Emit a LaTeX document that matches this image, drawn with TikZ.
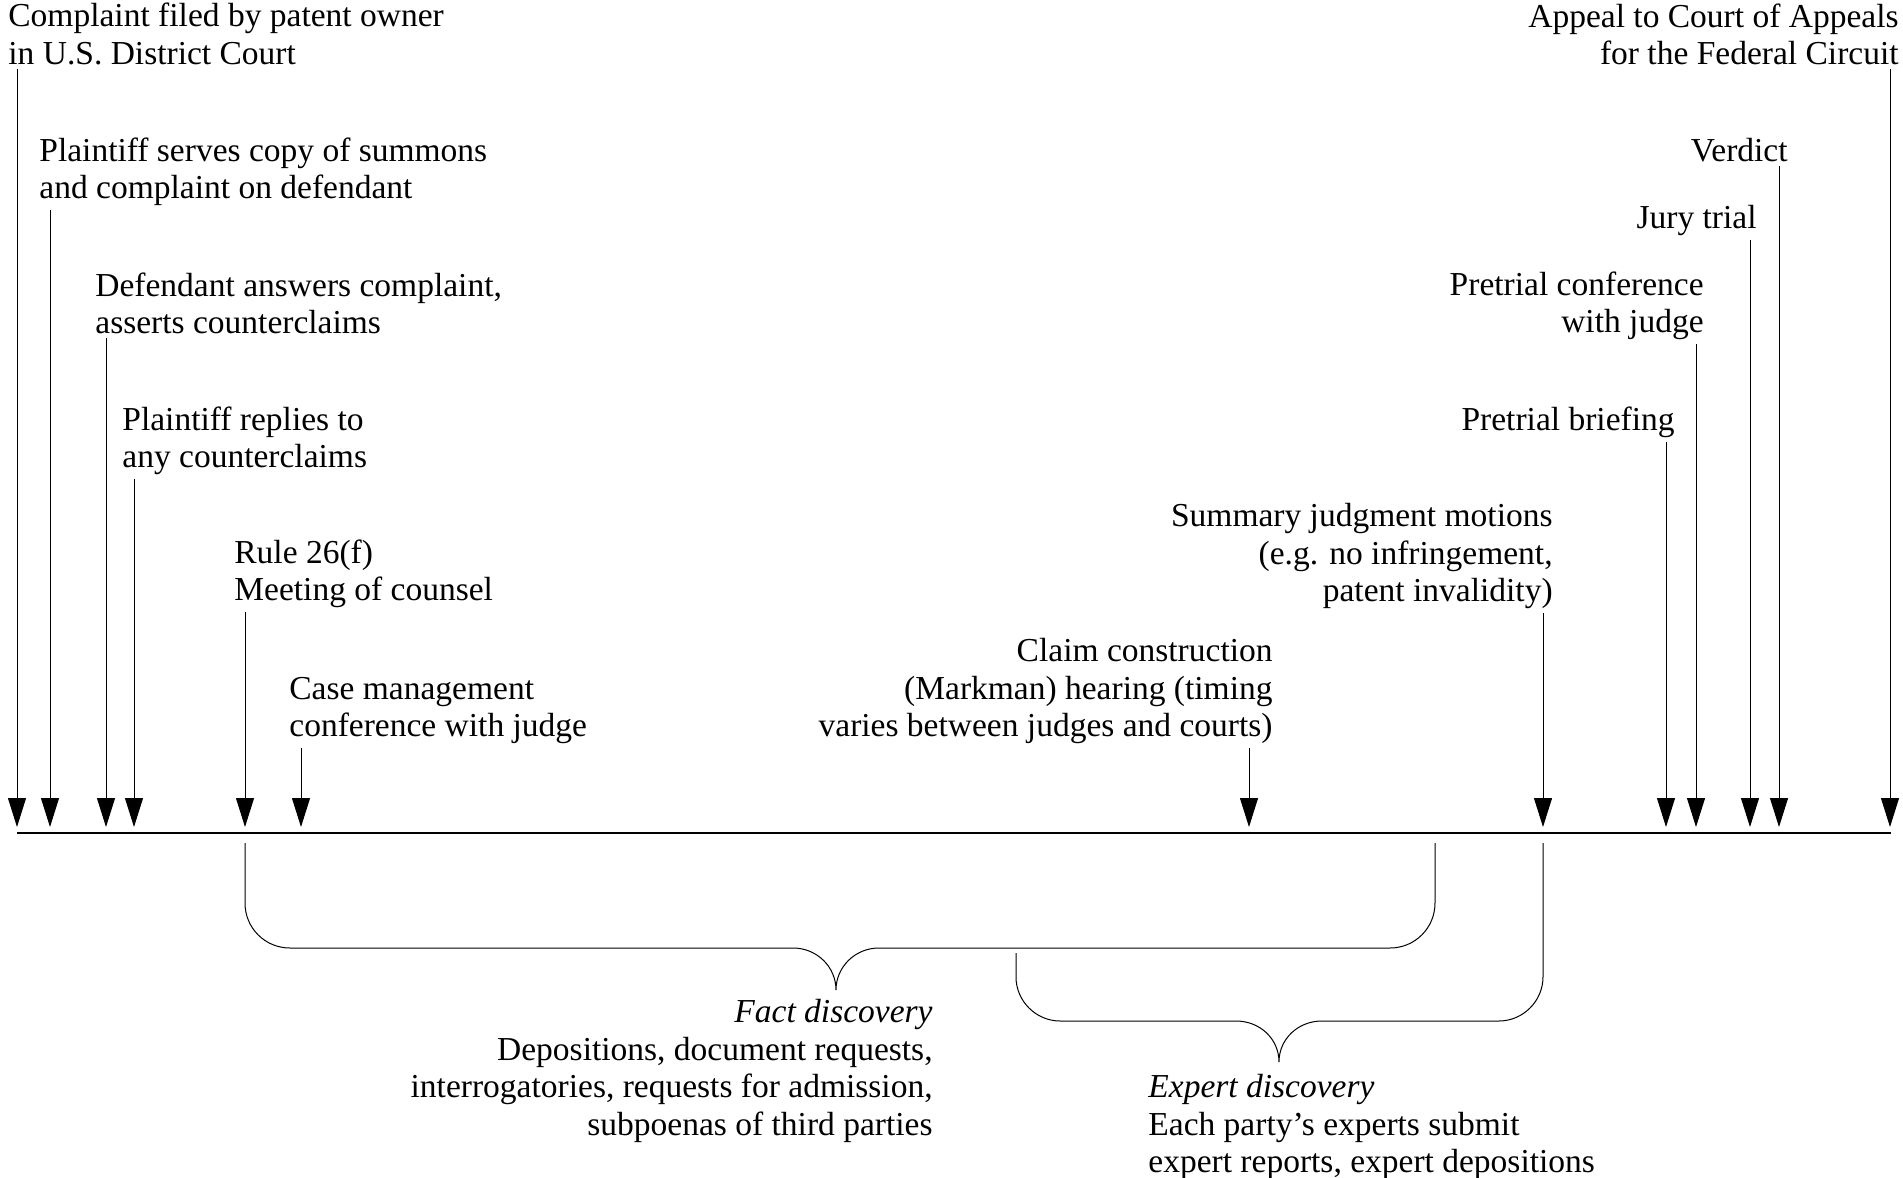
\documentclass[tikz,border=0pt]{standalone}
\usepackage{fontspec}
\setmainfont{Liberation Serif}
\usetikzlibrary{arrows.meta}

\begin{document}
\begin{tikzpicture}[x=0.5pt,y=-0.5pt,
  every node/.style={inner sep=0pt,font=\fontsize{16.75}{18.8}\selectfont},
  lft/.style={anchor=south west,align=left,outer ysep=2pt},
  rgt/.style={anchor=south east,align=right,outer ysep=2pt},
  evt/.style={-{Triangle[length=14.5pt,width=9pt]},line width=.5pt},
  brc/.style={line width=.5pt}]
\useasboundingbox (0,0) rectangle (1903,1178);
\draw[line width=1.1pt] (17,833) -- (1891,833);
\coordinate (e1) at (17,827);
\coordinate (e2) at (50,827);
\coordinate (e3) at (106,827);
\coordinate (e4) at (134,827);
\coordinate (e5) at (245,827);
\coordinate (e6) at (301,827);
\coordinate (e7) at (1249,827);
\coordinate (e8) at (1543,827);
\coordinate (e9) at (1666,827);
\coordinate (e10) at (1696,827);
\coordinate (e11) at (1750,827);
\coordinate (e12) at (1779,827);
\coordinate (e13) at (1890,827);
\node[lft] (complaint) at (8,69) {Complaint filed by patent owner\\in U.S. District Court};
\node[lft] (serve) at (39,210) {Plaintiff serves copy of summons\\and complaint on defendant};
\node[lft] (answer) at (95,338) {Defendant answers complaint,\\asserts counterclaims};
\node[lft] (reply) at (122,479) {Plaintiff replies to\\any counterclaims};
\node[lft] (rule) at (234,612) {Rule 26(f)\\Meeting of counsel};
\node[lft] (casemgmt) at (289,748) {Case management\\conference with judge};
\node[rgt] (markman) at (1273,748) {Claim construction\\(Markman) hearing (timing\\varies between judges and courts)};
\node[rgt] (summary) at (1553,613) {Summary judgment motions\\(e.g. no infringement,\\patent invalidity)};
\node[rgt] (briefing) at (1675,442) {Pretrial briefing};
\node[rgt] (pretrial) at (1704,344) {Pretrial conference\\with judge};
\node[rgt] (jury) at (1757,240) {Jury trial};
\node[rgt] (verdict) at (1788,166) {Verdict};
\node[rgt] (appeal) at (1899,69) {Appeal to Court of Appeals\\for the Federal Circuit};
\draw[evt] (complaint.south -| e1) -- (e1);
\draw[evt] (serve.south -| e2) -- (e2);
\draw[evt] (answer.south -| e3) -- (e3);
\draw[evt] (reply.south -| e4) -- (e4);
\draw[evt] (rule.south -| e5) -- (e5);
\draw[evt] (casemgmt.south -| e6) -- (e6);
\draw[evt] (markman.south -| e7) -- (e7);
\draw[evt] (summary.south -| e8) -- (e8);
\draw[evt] (briefing.south -| e9) -- (e9);
\draw[evt] (pretrial.south -| e10) -- (e10);
\draw[evt] (jury.south -| e11) -- (e11);
\draw[evt] (verdict.south -| e12) -- (e12);
\draw[evt] (appeal.south -| e13) -- (e13);
\draw[brc] (245,843) -- (245,903) .. controls (245,928) and (265,948) .. (290,948) -- (793,948)
  .. controls (817,948) and (836,967) .. (836,990) .. controls (836,967) and (855,948) .. (879,948)
  -- (1390,948) .. controls (1415,948) and (1435,928) .. (1435,903) -- (1435,843);
\draw[brc] (1016,953) -- (1016,977) .. controls (1016,1001) and (1036,1021) .. (1060,1021) -- (1236,1021)
  .. controls (1260,1021) and (1279,1039) .. (1279,1062) .. controls (1279,1039) and (1298,1021) .. (1322,1021)
  -- (1499,1021) .. controls (1523,1021) and (1543,1001) .. (1543,977) -- (1543,843);
\node[anchor=north east,align=right] (fact) at (933,999) {\textit{Fact discovery}\\Depositions, document requests,\\interrogatories, requests for admission,\\subpoenas of third parties};
\node[anchor=north west,align=left] (expert) at (1148,1074) {\textit{Expert discovery}\\Each party’s experts submit\\expert reports, expert depositions};
\end{tikzpicture}
\end{document}
